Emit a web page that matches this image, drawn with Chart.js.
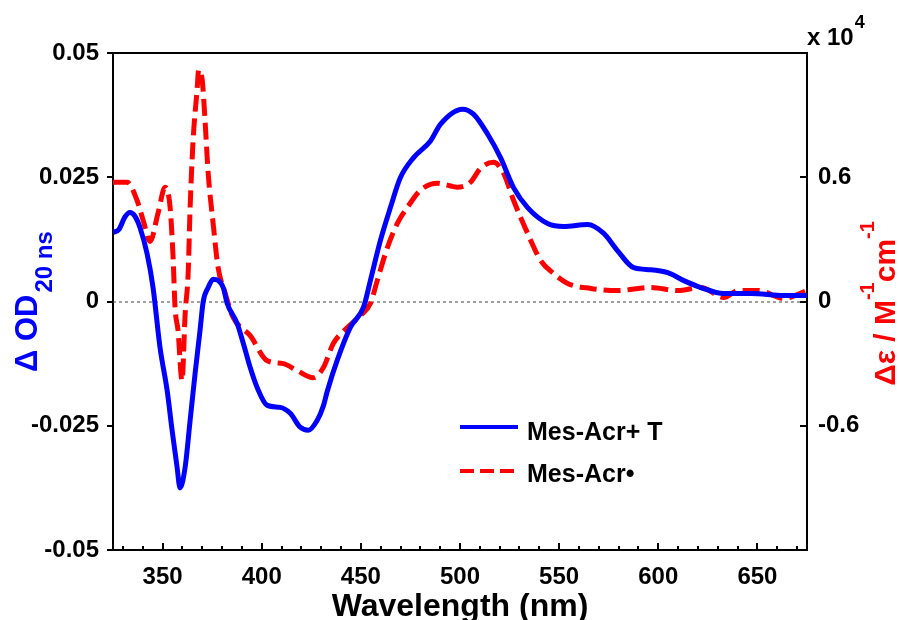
<!DOCTYPE html>
<html lang="en">
  <head>
    <meta charset="UTF-8" />
    <script src="https://cdn.jsdelivr.net/npm/chart.js"></script>
    <style>
      html, body { margin: 0; padding: 0; background: #fff; }
      canvas { display: block; }
    </style>
  </head>
  <body>
    <canvas id="spectra" width="899" height="620"></canvas>

    <script>
      // Mes-Acr+ T (left axis, delta OD at 20 ns)
      const blueNm = [325, 328, 331, 333.5, 336, 338.6, 342.2, 345.2, 348.7, 352.3, 354.8, 357.3, 358.8,
        361.4, 363.9, 366.4, 368.9, 370.5, 373, 375.5, 380.6, 382.6, 387.6, 390.7, 394.2, 397.7,
        402.8, 409.3, 414.4, 419.4, 423.5, 428, 431.1, 433.1, 438.1, 444.7, 451.3, 454.8, 459.8,
        464.9, 469.9, 476.5, 485.1, 490.2, 501.3, 506.8, 513.9, 520.5, 527, 534.1, 544.2, 552.3,
        564.4, 572.5, 579.5, 587.6, 596.2, 604.8, 612.9, 621.5, 633.1, 646.7, 663.4, 675];
      const blueOD = [0.0139, 0.0145, 0.0170, 0.0179, 0.0172, 0.0149, 0.0096, 0.0028, -0.0092, -0.0179,
        -0.0259, -0.0333, -0.0375, -0.0333, -0.0239, -0.0145, -0.0058, 0.0000, 0.0028, 0.0045,
        0.0028, -0.0004, -0.0044, -0.0084, -0.0133, -0.0173, -0.0209, -0.0213, -0.0225, -0.0253,
        -0.0259, -0.0239, -0.0210, -0.0180, -0.0118, -0.0052, -0.0012, 0.0042, 0.0122, 0.0189,
        0.0249, 0.0289, 0.0323, 0.0357, 0.0387, 0.0377, 0.0337, 0.0289, 0.0229, 0.0189, 0.0157,
        0.0151, 0.0155, 0.0137, 0.0102, 0.0068, 0.0064, 0.0058, 0.0042, 0.0028, 0.0016, 0.0016,
        0.0012, 0.0012];

      // Mes-Acr radical (right axis, delta epsilon x 10^4)
      const redNm = [325, 332.1, 337.1, 340.2, 343.7, 347.7, 351.3, 353.8, 355.3, 356.3, 357.8, 359.8,
        361.4, 362.9, 363.9, 365.4, 367.4, 368.2, 370, 371.5, 373, 375.5, 378, 381.6, 385.6, 394.2,
        402.8, 410.9, 417.9, 426, 431.1, 436.1, 443.2, 449.7, 454.8, 458.3, 463.4, 468.4, 473.5,
        480, 488.6, 498.7, 505.3, 510.4, 516.9, 522, 527, 534.1, 540.7, 547.2, 554.3, 565.9, 579.5,
        596.2, 609.8, 621.5, 633.1, 640.2, 650.3, 663.4, 675];
      const redEps = [0.576, 0.576, 0.489, 0.392, 0.290, 0.426, 0.552, 0.455, 0.213, -0.029, -0.140,
        -0.382, -0.058, 0.135, 0.455, 0.779, 1.021, 1.118, 1.069, 0.861, 0.619, 0.377, 0.165, 0.039,
        -0.077, -0.165, -0.286, -0.300, -0.334, -0.368, -0.319, -0.203, -0.126, -0.068, -0.010,
        0.102, 0.261, 0.377, 0.455, 0.537, 0.571, 0.552, 0.576, 0.644, 0.673, 0.619, 0.489, 0.329,
        0.198, 0.135, 0.087, 0.063, 0.053, 0.068, 0.053, 0.068, 0.019, 0.053, 0.053, 0.015, 0.053];

      const xTicks = [350, 400, 450, 500, 550, 600, 650];
      const xMinorTicks = [330, 340, 360, 370, 380, 390, 410, 420, 430, 440, 460, 470, 480, 490,
        510, 520, 530, 540, 560, 570, 580, 590, 610, 620, 630, 640, 660, 670];
      const leftTicks = [-0.05, -0.025, 0, 0.025, 0.05];
      const leftLabels = ["-0.05", "-0.025", "0", "0.025", "0.05"];
      const rightTicks = [-0.6, 0, 0.6];
      const rightLabels = ["-0.6", "0", "0.6"];

      const FONT = "'Liberation Sans', Arial, sans-serif";
      const tickFont = { family: FONT, size: 24, weight: "bold" };

      function pts(xs, ys) {
        return xs.map((x, i) => ({ x: x, y: ys[i] }));
      }
      function setTicks(vals) {
        return (scale) => {
          scale.ticks = vals.map((v) => ({ value: v }));
        };
      }

      // axes decorations, titles and the legend
      const decor = {
        id: "decor",
        beforeDatasetsDraw(chart) {
          const { ctx, chartArea: a, scales } = chart;
          const y0 = scales.y.getPixelForValue(0);
          ctx.save();
          ctx.strokeStyle = "#444";
          ctx.lineWidth = 1;
          ctx.setLineDash([3, 3]);
          ctx.beginPath();
          ctx.moveTo(a.left, y0 + 0.5);
          ctx.lineTo(a.right, y0 + 0.5);
          ctx.stroke();
          ctx.restore();
        },
        afterDraw(chart) {
          const { ctx, chartArea: a, scales } = chart;
          ctx.save();
          ctx.strokeStyle = "#000";
          ctx.lineWidth = 2;
          ctx.beginPath();
          ctx.moveTo(a.left, a.top);
          ctx.lineTo(a.right, a.top);
          ctx.stroke();

          // tick marks
          ctx.beginPath();
          xTicks.forEach((v) => {
            const x = Math.round(scales.x.getPixelForValue(v));
            ctx.moveTo(x, a.bottom);
            ctx.lineTo(x, a.bottom - 7);
          });
          xMinorTicks.forEach((v) => {
            const x = Math.round(scales.x.getPixelForValue(v));
            ctx.moveTo(x, a.bottom);
            ctx.lineTo(x, a.bottom - 4);
          });
          leftTicks.forEach((v) => {
            const y = Math.round(scales.y.getPixelForValue(v));
            ctx.moveTo(a.left, y);
            ctx.lineTo(a.left - 6, y);
          });
          rightTicks.forEach((v) => {
            const y = Math.round(scales.y1.getPixelForValue(v));
            ctx.moveTo(a.right, y);
            ctx.lineTo(a.right - 7, y);
          });
          ctx.stroke();

          // x title
          ctx.fillStyle = "#000";
          ctx.font = "bold 32px " + FONT;
          ctx.textAlign = "center";
          ctx.textBaseline = "alphabetic";
          ctx.fillText("Wavelength (nm)", (a.left + a.right) / 2, 616);

          // x 10^4
          ctx.textAlign = "left";
          ctx.font = "bold 24px " + FONT;
          ctx.fillText("x 10", a.right, 45);
          const w10 = ctx.measureText("x 10").width;
          ctx.font = "bold 18px " + FONT;
          ctx.fillText("4", a.right + w10 + 1, 28);

          // left title
          const midY = (a.top + a.bottom) / 2;
          ctx.save();
          ctx.fillStyle = "#0000ff";
          ctx.translate(37, midY);
          ctx.rotate(-Math.PI / 2);
          ctx.font = "bold 31px " + FONT;
          const mainL = "\u0394 OD";
          const wMain = ctx.measureText(mainL).width;
          ctx.font = "bold 24px " + FONT;
          const subL = "20 ns";
          const wSub = ctx.measureText(subL).width;
          let sx = -(wMain + wSub + 2) / 2;
          ctx.font = "bold 31px " + FONT;
          ctx.fillText(mainL, sx, 0);
          ctx.font = "bold 24px " + FONT;
          ctx.fillText(subL, sx + wMain + 2, 15);
          ctx.restore();

          // right title
          ctx.save();
          ctx.fillStyle = "#ff0000";
          ctx.translate(895, midY + 2);
          ctx.rotate(-Math.PI / 2);
          const parts = [
            ["\u0394\u03b5 / M", 30, 0],
            ["-1", 20, -21],
            ["cm", 30, 0],
            ["-1", 20, -21],
          ];
          let total = 0;
          parts.forEach((p) => {
            ctx.font = "bold " + p[1] + "px " + FONT;
            p.push(ctx.measureText(p[0]).width);
            total += p[3];
          });
          let px = -total / 2;
          parts.forEach((p) => {
            ctx.font = "bold " + p[1] + "px " + FONT;
            ctx.fillText(p[0], px, p[2]);
            px += p[3];
          });
          ctx.restore();

          // legend
          const ds = chart.data.datasets;
          const rows = [
            { y: 427, base: 440 },
            { y: 471, base: 482 },
          ];
          ds.forEach((d, i) => {
            const r = rows[i];
            ctx.save();
            ctx.strokeStyle = d.borderColor;
            ctx.lineWidth = 4;
            ctx.setLineDash(d.borderDash ? [14, 6] : []);
            ctx.beginPath();
            ctx.moveTo(460, r.y);
            ctx.lineTo(i ? 515 : 518, r.y);
            ctx.stroke();
            ctx.restore();
            ctx.fillStyle = "#000";
            ctx.font = "bold 25px " + FONT;
            ctx.fillText(d.label, 527, r.base);
          });
          ctx.restore();
        },
      };

      const ctx = document.getElementById("spectra").getContext("2d");
      const chart = new Chart(ctx, {
        type: "line",
        data: {
          datasets: [
            {
              label: "Mes-Acr+ T",
              data: pts(blueNm, blueOD),
              yAxisID: "y",
              borderColor: "#0000ff",
              borderWidth: 5,
              pointRadius: 0,
              cubicInterpolationMode: "monotone",
              fill: false,
            },
            {
              label: "Mes-Acr\u2022",
              data: pts(redNm, redEps),
              yAxisID: "y1",
              borderColor: "#ff0000",
              borderWidth: 5,
              borderDash: [17, 7],
              pointRadius: 0,
              cubicInterpolationMode: "monotone",
              fill: false,
            },
          ],
        },
        options: {
          responsive: false,
          animation: false,
          layout: { padding: { top: 53, left: 0, right: 0, bottom: 0 } },
          plugins: { legend: { display: false }, tooltip: { enabled: false } },
          scales: {
            x: {
              type: "linear",
              min: 325,
              max: 675,
              afterBuildTicks: setTicks(xTicks),
              afterFit: (s) => { s.height = 70; },
              grid: { display: false },
              border: { color: "#000", width: 2 },
              ticks: { font: tickFont, color: "#000", padding: 5, maxRotation: 0 },
            },
            y: {
              position: "left",
              min: -0.05,
              max: 0.05,
              afterBuildTicks: setTicks(leftTicks),
              afterFit: (s) => { s.width = 113; },
              grid: { display: false },
              border: { color: "#000", width: 2 },
              ticks: {
                font: tickFont,
                color: "#000",
                padding: 6,
                callback: (v) => leftLabels[leftTicks.indexOf(v)],
              },
            },
            y1: {
              position: "right",
              min: -1.2,
              max: 1.2,
              afterBuildTicks: setTicks(rightTicks),
              afterFit: (s) => { s.width = 92; },
              grid: { display: false },
              border: { color: "#000", width: 2 },
              ticks: {
                font: tickFont,
                color: "#000",
                padding: 3,
                callback: (v) => rightLabels[rightTicks.indexOf(v)],
              },
            },
          },
        },
        plugins: [decor],
      });
    </script>
  </body>
</html>
